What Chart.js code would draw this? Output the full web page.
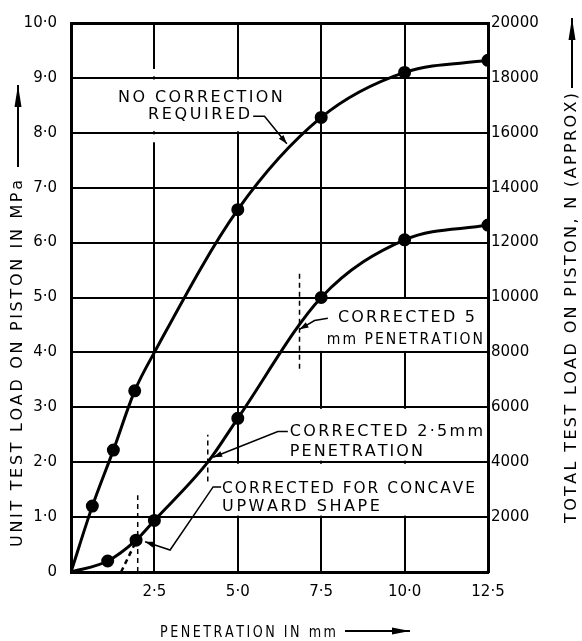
<!DOCTYPE html>
<html>
<head>
<meta charset="utf-8">
<script src="https://cdn.jsdelivr.net/npm/chart.js@4.4.1/dist/chart.umd.min.js"></script>
<style>
  html,body{margin:0;padding:0;background:#fff;}
  #wrap{width:582px;height:641px;}
</style>
</head>
<body>
<div id="wrap"><canvas id="cbr" width="582" height="641"></canvas></div>
<script>
// penetration (mm) and unit load (MPa)
const penNoCorr  = [0, 0.64, 1.27, 1.91, 2.5, 5.0, 7.5, 10.0, 12.5];
const loadNoCorr = [0, 1.2, 2.22, 3.3, 4.0, 6.6, 8.28, 9.1, 9.32];
const dotNoCorr  = [0, 1, 1, 1, 0, 1, 1, 1, 1];

const penConcave  = [0, 1.1, 1.95, 2.5, 4.1, 5.0, 7.5, 10.0, 12.5];
const loadConcave = [0, 0.2, 0.58, 0.94, 2.0, 2.8, 5.0, 6.05, 6.32];
const dotConcave  = [0, 1, 1, 1, 0, 1, 1, 1, 1];

// construction lines
const tangentPen  = [1.5, 2.0];
const tangentLoad = [0, 0.62];
const markPen  = [2.0, 4.1, 6.85];
const markFrom = [0, 1.65, 3.7];
const markTo   = [1.4, 2.5, 5.45];

const xTicks = [0, 2.5, 5.0, 7.5, 10.0, 12.5];
const yTicks = [0, 1, 2, 3, 4, 5, 6, 7, 8, 9, 10];
const y2Ticks = [0, 2000, 4000, 6000, 8000, 10000, 12000, 14000, 16000, 18000, 20000];

const FONT = "'DejaVu Sans', sans-serif";
const dot = v => v.toFixed(1).replace('.', '\u00b7');
const pts = (xs, ys) => xs.map((x, i) => ({x, y: ys[i]}));

const curve = (xs, ys, dots) => ({
  data: pts(xs, ys), borderColor: '#000', backgroundColor: '#000', borderWidth: 3,
  pointRadius: dots.map(d => d ? 5 : 0), pointHoverRadius: 0,
  cubicInterpolationMode: 'monotone', yAxisID: 'y'
});
const dashed = (xs, ys, w) => ({
  data: pts(xs, ys), borderColor: '#000', borderWidth: w, borderDash: [5, 4],
  pointRadius: 0, tension: 0, yAxisID: 'y'
});

const datasets = [
  curve(penNoCorr, loadNoCorr, dotNoCorr),
  curve(penConcave, loadConcave, dotConcave),
  dashed(tangentPen, tangentLoad, 2.5),
  ...markPen.map((p, i) => dashed([p, p], [markFrom[i], markTo[i]], 1.5))
];

// white patches where the labels break the grid (x in mm, y in MPa)
const gaps = [
  [1.3, 6.5, 8, 9], [2.3, 2.7, 7.8, 8], [2.3, 2.7, 9, 9.19],
  [7.3, 12.5, 4, 5], [6.35, 12.5, 2, 3], [4.3, 12.5, 1, 2]
];

const notes = [
  {lines: [['NO CORRECTION', 1.41, 6.35, 8.57], ['REQUIRED', 2.31, 5.37, 8.25]],
   arrow: [[5.46, 8.3], [5.8, 8.3], [6.47, 7.8]]},
  {lines: [['CORRECTED 5', 8.0, 12.11, 4.55], ['mm PENETRATION', 7.67, 12.35, 4.15]],
   arrow: [[7.7, 4.62], [7.3, 4.58], [6.85, 4.42]]},
  {lines: [['CORRECTED 2\u00b75mm', 6.56, 12.35, 2.47], ['PENETRATION', 6.56, 10.55, 2.11]],
   arrow: [[6.5, 2.56], [6.2, 2.56], [4.26, 2.09]]},
  {lines: [['CORRECTED FOR CONCAVE', 4.53, 12.11, 1.44], ['UPWARD SHAPE', 4.53, 9.26, 1.12]],
   arrow: [[4.5, 1.55], [4.26, 1.55], [2.97, 0.4], [2.22, 0.55]]}
];

// draw text so it runs from x0 to x1; squeeze glyphs if the gaps would get too tight
function spaced(ctx, str, x0, x1, y, minGap = 2){
  const ch = [...str], ws = ch.map(c => ctx.measureText(c).width);
  const tot = ws.reduce((a, b) => a + b, 0), n = ch.length - 1;
  let sx = 1;
  if (tot + minGap*n > x1 - x0) sx = (x1 - x0 - minGap*n) / tot;
  const gap = n > 0 ? (x1 - x0 - tot*sx) / n : 0;
  let x = x0;
  ch.forEach((c, i) => {
    ctx.save(); ctx.translate(x, y); ctx.scale(sx, 1); ctx.fillText(c, 0, 0); ctx.restore();
    x += ws[i]*sx + gap;
  });
}
function arrow(ctx, p, len, half){
  ctx.beginPath(); ctx.moveTo(p[0][0], p[0][1]);
  p.slice(1).forEach(q => ctx.lineTo(q[0], q[1])); ctx.stroke();
  const [x1, y1] = p[p.length - 2], [x2, y2] = p[p.length - 1];
  const a = Math.atan2(y2 - y1, x2 - x1), c = Math.cos(a), s = Math.sin(a);
  ctx.beginPath(); ctx.moveTo(x2, y2);
  ctx.lineTo(x2 - len*c + half*s, y2 - len*s - half*c);
  ctx.lineTo(x2 - len*c - half*s, y2 - len*s + half*c);
  ctx.closePath(); ctx.fill();
}

const gapPlugin = {
  id: 'gaps',
  beforeDatasetsDraw(chart){
    const {ctx, scales: {x, y}} = chart;
    ctx.save(); ctx.fillStyle = '#fff';
    gaps.forEach(([a, b, lo, hi]) => {
      const l = x.getPixelForValue(a), r = Math.min(x.getPixelForValue(b), chart.chartArea.right - 2);
      const t = y.getPixelForValue(hi) + 1.5, btm = y.getPixelForValue(lo) - 1.5;
      ctx.fillRect(l, t, r - l, btm - t);
    });
    ctx.restore();
  }
};

const textPlugin = {
  id: 'texts',
  afterDraw(chart){
    const {ctx, scales: {x, y}} = chart;
    const P = (a, b) => [x.getPixelForValue(a), y.getPixelForValue(b)];
    ctx.save();
    ctx.fillStyle = '#000'; ctx.strokeStyle = '#000';
    ctx.font = '16px ' + FONT; ctx.textBaseline = 'alphabetic';
    notes.forEach(n => {
      n.lines.forEach(([t, a, b, v]) => spaced(ctx, t, P(a, v)[0], P(b, v)[0], P(a, v)[1]));
      ctx.lineWidth = 1.5;
      arrow(ctx, n.arrow.map(q => P(q[0], q[1])), 9, 3);
    });

    // axis titles
    spaced(ctx, 'PENETRATION IN mm', 160, 336, 637, 2.5);
    ctx.lineWidth = 2;
    arrow(ctx, [[345, 631], [410, 631]], 18, 3.5);

    ctx.textBaseline = 'middle';
    ctx.save(); ctx.translate(18, 547); ctx.rotate(-Math.PI/2);
    spaced(ctx, 'UNIT TEST LOAD ON PISTON IN MPa', 0, 367, 0);
    ctx.restore();
    arrow(ctx, [[18, 167], [18, 85]], 22, 3.5);

    ctx.save(); ctx.translate(572, 523); ctx.rotate(-Math.PI/2);
    spaced(ctx, 'TOTAL TEST LOAD ON PISTON, N (APPROX)', 0, 430, 0);
    ctx.restore();
    arrow(ctx, [[572, 88], [572, 18]], 22, 3.5);
    ctx.restore();
  }
};

const tickFont = {family: FONT, size: 15};
new Chart(document.getElementById('cbr'), {
  type: 'line',
  data: {datasets},
  plugins: [gapPlugin, textPlugin],
  options: {
    responsive: false, animation: false, events: [],
    layout: {padding: {top: 18, left: 0, right: 0, bottom: 0}},
    plugins: {legend: {display: false}, tooltip: {enabled: false}},
    scales: {
      x: {
        type: 'linear', min: 0, max: 12.5,
        afterBuildTicks: s => { s.ticks = xTicks.map(v => ({value: v})); },
        afterFit: s => { s.height = 69; },
        grid: {color: '#000', lineWidth: 2, drawTicks: false},
        border: {color: '#000', width: 3},
        ticks: {color: '#000', font: tickFont, padding: 11, maxRotation: 0,
                callback: v => v === 0 ? '' : dot(v)}
      },
      y: {
        type: 'linear', position: 'left', min: 0, max: 10,
        afterBuildTicks: s => { s.ticks = yTicks.map(v => ({value: v})); },
        afterFit: s => { s.width = 71; },
        grid: {color: '#000', lineWidth: c => c.tick && c.tick.value === 10 ? 3 : 2, drawTicks: false},
        border: {color: '#000', width: 3},
        ticks: {color: '#000', font: tickFont, padding: 14,
                callback: v => v === 0 ? '0' : dot(v)}
      },
      y2: {
        type: 'linear', position: 'right', min: 0, max: 20000,
        afterBuildTicks: s => { s.ticks = y2Ticks.map(v => ({value: v})); },
        afterFit: s => { s.width = 94; },
        grid: {drawOnChartArea: false, drawTicks: false},
        border: {color: '#000', width: 3},
        ticks: {color: '#000', font: tickFont, padding: 3,
                callback: v => v === 0 ? '' : String(v)}
      }
    }
  }
});
</script>
</body>
</html>
